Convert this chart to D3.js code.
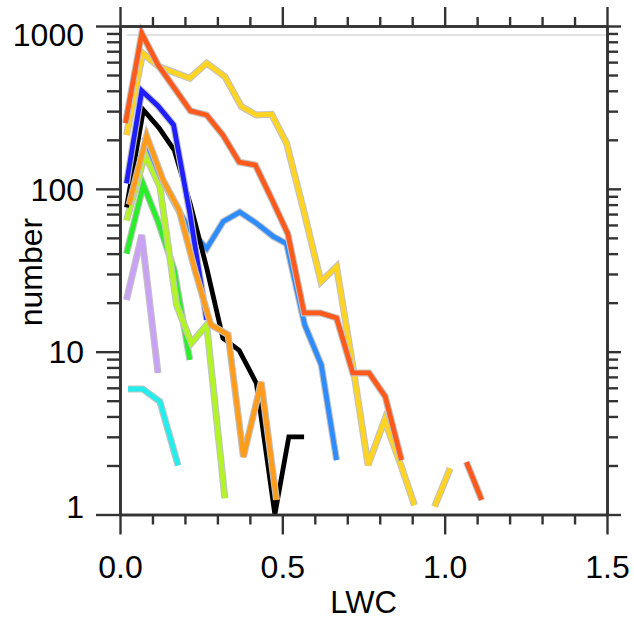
<!DOCTYPE html>
<html>
<head>
<meta charset="utf-8">
<script src="https://cdn.jsdelivr.net/npm/d3@7"></script>
<style>
body { margin: 0; background: #fff; }
text { font-family: "Liberation Sans", Arial, Helvetica, sans-serif; }
</style>
</head>
<body>
<svg id="chart" width="634" height="621"></svg>
<script>
// [LWC, number] pairs for each curve, null = break in the line
var serCyan = [[0.025,5.9],[0.07,5.9],[0.123,4.93],[0.179,2.0]];
var serLavender = [[0.02,20.8],[0.067,52],[0.117,7.4]];
var serGreen = [[0.02,40],[0.072,106],[0.117,63],[0.167,31.8],[0.215,8.9]];
var serYellowGreen = [[0.02,64],[0.077,162],[0.123,103],[0.174,19.4],[0.22,11.3],[0.267,14.6],[0.323,1.26]];
var serLightBlue = [[0.075,208],[0.125,118],[0.175,77],[0.215,56],[0.267,43],[0.318,63],[0.369,72],[0.42,61.5],[0.472,51],[0.513,46],[0.569,14.6],[0.62,8.3],[0.667,2.16]];
var serBlack = [[0.02,77],[0.072,305],[0.12,237],[0.167,173],[0.217,80],[0.267,32.7],[0.317,12.1],[0.367,10.2],[0.42,6.4],[0.477,1],[0.52,3],[0.567,3]];
var serBlue = [[0.02,108],[0.067,400],[0.117,323],[0.165,247],[0.215,71],[0.267,15.7]];
var serOrange = [[0.028,80],[0.082,211],[0.132,114],[0.182,74],[0.232,31],[0.28,14.6],[0.333,12.7],[0.38,2.26],[0.435,6.5],[0.482,1.23]];
var serYellow = [[0.02,214],[0.07,680],[0.12,563],[0.167,519],[0.215,478],[0.267,591],[0.323,489],[0.374,320],[0.42,284],[0.467,287],[0.513,191],[0.567,72],[0.619,26.9],[0.667,33.3],[0.717,8.2],[0.764,2.01],[0.815,3.8],[0.867,1.96],[0.907,1.14],null,[0.969,1.12],[1.017,1.92]];
var serOrangeRed = [[0.017,253],[0.067,900],[0.117,577],[0.167,417],[0.217,301],[0.267,284],[0.317,214],[0.367,146],[0.417,140],[0.467,87],[0.517,53],[0.567,17.3],[0.617,17.3],[0.667,16.1],[0.717,7.4],[0.767,7.4],[0.817,5.3],[0.867,2.16],null,[1.067,2.1],[1.114,1.23]];

var xTicks = [0, 0.5, 1.0, 1.5];
var yTicks = [1, 10, 100, 1000];

// drawing order, bottom first
var series = [
	{d: serCyan, cor: "#22eeee", halo: true},
	{d: serLavender, cor: "#c9a2f6", halo: true},
	{d: serGreen, cor: "#2aee2a", halo: true},
	{d: serYellowGreen, cor: "#b2f526", halo: true},
	{d: serLightBlue, cor: "#2f8cff", halo: true},
	{d: serBlack, cor: "#000000", halo: false},
	{d: serBlue, cor: "#1e1eff", halo: true},
	{d: serOrange, cor: "#ff9c1c", halo: true},
	{d: serYellow, cor: "#ffd422", halo: true},
	{d: serOrangeRed, cor: "#ff5a1c", halo: true}
];

var esq = 120, dir = 607, topo = 26, base = 514.5;
var svg = d3.select("#chart");

var x = d3.scaleLinear().domain([0, 1.5]).range([esq, dir]);
var y = d3.scaleLog().domain([1, 1000]).range([base, topo]);

var xMinor = [];
for(var i = 1; i < 15; i++){
	if(i % 5 != 0) xMinor.push(i / 10);
}
var yMinor = [];
for(var p = 1; p <= 100; p *= 10){
	for(var m = 2; m <= 9; m++) yMinor.push(m * p);
}

// faint border of the plot image
svg.append("line")
	.attr("x1", 127).attr("y1", 35)
	.attr("x2", dir - 1).attr("y2", 35)
	.attr("stroke", "#c4c4c4")
	.attr("stroke-width", 1.2);

var linha = d3.line()
	.defined(function(d){ return d != null; })
	.x(function(d){ return x(d[0]); })
	.y(function(d){ return y(d[1]); });

for(var s = 0; s < series.length; s++){
	if(series[s].halo){
		svg.append("path")
			.attr("d", linha(series[s].d))
			.attr("fill", "none")
			.attr("stroke", "#c2c2c2")
			.attr("stroke-width", 7)
			.attr("stroke-linejoin", "miter");
	}
	svg.append("path")
		.attr("d", linha(series[s].d))
		.attr("fill", "none")
		.attr("stroke", series[s].cor)
		.attr("stroke-width", 4.8)
		.attr("stroke-linejoin", "miter");
}

function estilo(g){
	g.selectAll(".domain").attr("stroke", "#333").attr("stroke-width", 2.6);
	g.selectAll(".tick line").attr("stroke", "#333").attr("stroke-width", 2.4);
	g.selectAll("text").attr("fill", "#000").style("font-size", "32px")
		.style("font-family", "'Liberation Sans', Arial, Helvetica, sans-serif");
}

// minor ticks first, majors over them
var gl = svg.append("g").attr("transform", "translate(" + esq + ",0)");
gl.call(d3.axisLeft(y).tickValues(yMinor).tickSize(13).tickSizeOuter(0).tickFormat(""));
var glM = svg.append("g").attr("transform", "translate(" + esq + ",0)");
glM.call(d3.axisLeft(y).tickValues(yTicks).tickSize(24).tickSizeOuter(0).tickPadding(12).tickFormat(d3.format("d")));
glM.selectAll("text").attr("dy", function(d){
	if(d == 1000) return "0.62em";
	if(d == 1) return "0.08em";
	return "0.35em";
});
estilo(gl); estilo(glM);

var gr = svg.append("g").attr("transform", "translate(" + dir + ",0)");
gr.call(d3.axisRight(y).tickValues(yMinor).tickSize(11).tickSizeOuter(0).tickFormat(""));
var grM = svg.append("g").attr("transform", "translate(" + dir + ",0)");
grM.call(d3.axisRight(y).tickValues(yTicks).tickSize(14).tickSizeOuter(0).tickFormat(""));
estilo(gr); estilo(grM);

var gt = svg.append("g").attr("transform", "translate(0," + topo + ")");
gt.call(d3.axisTop(x).tickValues(xMinor).tickSize(9).tickSizeOuter(0).tickFormat(""));
var gtM = svg.append("g").attr("transform", "translate(0," + topo + ")");
gtM.call(d3.axisTop(x).tickValues(xTicks).tickSize(19).tickSizeOuter(0).tickFormat(""));
estilo(gt); estilo(gtM);

var gb = svg.append("g").attr("transform", "translate(0," + base + ")");
gb.call(d3.axisBottom(x).tickValues(xMinor).tickSize(10).tickSizeOuter(0).tickFormat(""));
var gbM = svg.append("g").attr("transform", "translate(0," + base + ")");
gbM.call(d3.axisBottom(x).tickValues(xTicks).tickSize(20).tickSizeOuter(0).tickPadding(21).tickFormat(d3.format(".1f")));
estilo(gb); estilo(gbM);

svg.append("text")
	.attr("x", (esq + dir) / 2)
	.attr("y", 613)
	.attr("text-anchor", "middle")
	.style("font-size", "31px")
	.text("LWC");

svg.append("text")
	.attr("transform", "translate(42," + 272 + ") rotate(-90)")
	.attr("text-anchor", "middle")
	.style("font-size", "32px")
	.text("number");
</script>
</body>
</html>
